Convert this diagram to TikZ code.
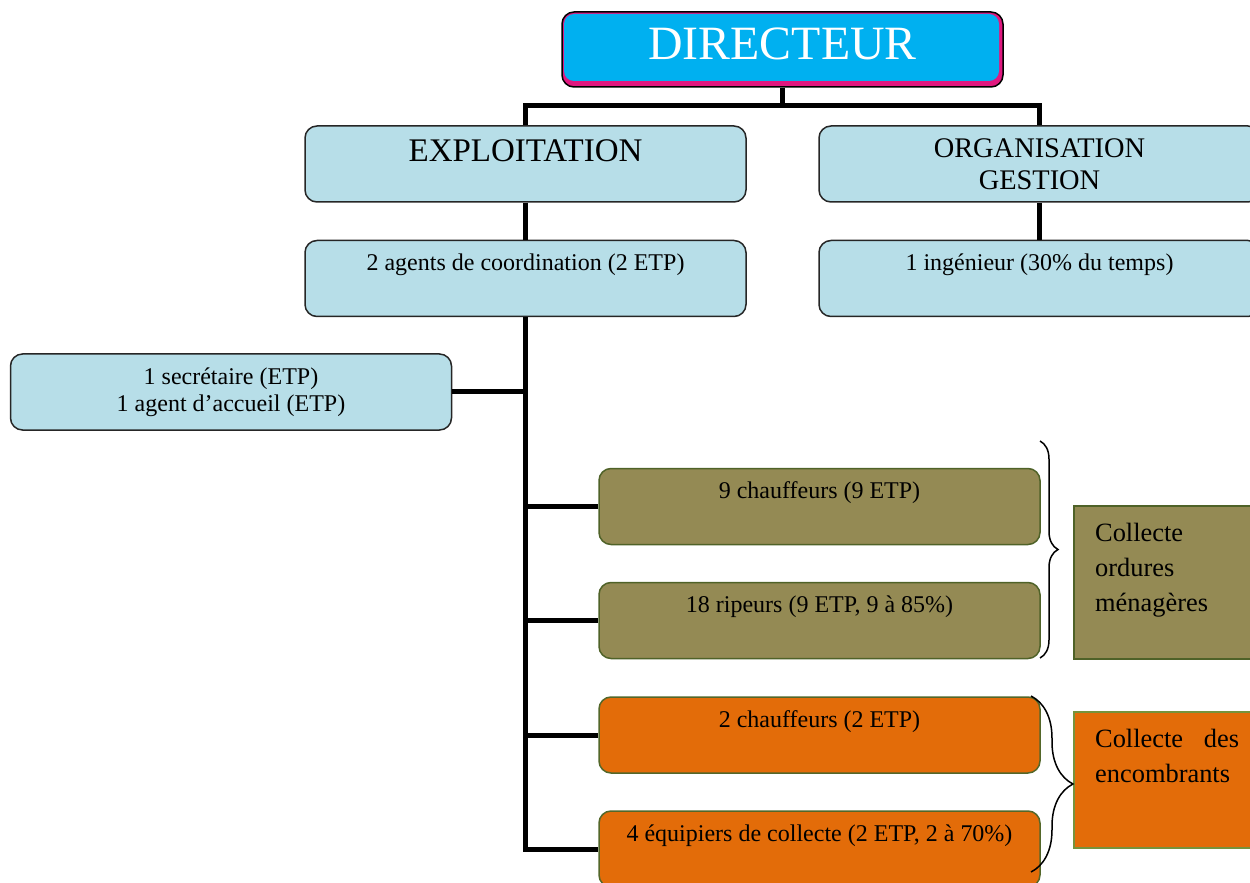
\documentclass[tikz,border=0pt]{standalone}
\usepackage{fontspec}
\setmainfont{Liberation Serif}
\usetikzlibrary{decorations.pathreplacing}

\definecolor{dircyan}{HTML}{00B0F0}
\definecolor{dirpink}{HTML}{E0187F}
\definecolor{paleblue}{HTML}{B7DEE8}
\definecolor{omfill}{HTML}{948A54}
\definecolor{omline}{HTML}{4F6228}
\definecolor{encfill}{HTML}{E36C09}
\definecolor{encline}{HTML}{77933C}

\newcommand\dirfont{\fontsize{23.9}{28}\selectfont}
\newcommand\expfont{\fontsize{16.5}{19}\selectfont}
\newcommand\orgfont{\fontsize{14.2}{16}\selectfont}
\newcommand\boxfont{\fontsize{12}{13.5}\selectfont}
\newcommand\groupfont{\fontsize{13.2}{17.5}\selectfont}

\begin{document}
\begin{tikzpicture}[x=0.5pt, y=-0.5pt,
    link/.style={line width=2.5pt},
    box/.style={rounded corners=6pt, minimum width=220.5pt, minimum height=38pt, inner sep=0pt, line width=0.75pt},
    bluebox/.style={box, draw=black!85, fill=paleblue},
    omcell/.style={box, draw=omline, fill=omfill},
    enccell/.style={box, draw=encline!70!black, fill=encfill},
    toptext/.style={label={[font=\boxfont, anchor=base, yshift=-15.5pt]north:#1}},
    group/.style={minimum width=95pt, inner sep=0pt, line width=0.9pt},
    grouptext/.style={font=\groupfont, anchor=base west, align=left, xshift=7.5pt, yshift=-18pt},
    curly/.style={decorate, decoration={brace, amplitude=#1}, line width=0.75pt}]
    \useasboundingbox (0,0) rectangle (1250,883);

    % Director
    \node[box, minimum height=37.5pt, draw=black, fill=dirpink,
          path picture={\fill[dircyan, rounded corners=5pt]
              ([shift={(2,2)}]path picture bounding box.north west) rectangle
              ([shift={(-4,-6)}]path picture bounding box.south east);},
          label={[font=\dirfont, text=white, anchor=base, yshift=-24pt]north:DIRECTEUR}]
          (dir) at (782.5,49.5) {};

    % Two departments
    \node[bluebox, label={[font=\expfont, anchor=base, yshift=-18pt]north:EXPLOITATION}] (expl) at (525.5,164) {};
    \node[bluebox, font=\orgfont, align=center] (org) at (1039.5,164) {ORGANISATION\\GESTION};
    \node[bluebox, toptext={2 agents de coordination (2 ETP)}] (coord) at (525.5,278.5) {};
    \node[bluebox, toptext={1 ingénieur (30\% du temps)}] (ing) at (1039.5,278.5) {};
    \node[bluebox, font=\boxfont, align=center] (secr) at (231,392) {1 secrétaire (ETP)\\1 agent d’accueil (ETP)};

    % Collection teams
    \node[omcell, toptext={9 chauffeurs (9 ETP)}] (chomb) at (819.5,506.5) {};
    \node[omcell, toptext={18 ripeurs (9 ETP, 9 à 85\%)}] (ripeurs) at (819.5,620.5) {};
    \node[enccell, toptext={2 chauffeurs (2 ETP)}] (chenc) at (819.5,735) {};
    \node[enccell, toptext={4 équipiers de collecte (2 ETP, 2 à 70\%)}] (equip) at (819.5,849) {};

    \node[group, minimum height=76.5pt, fill=omfill, draw=omline,
          label={[grouptext, text width=90pt]north west:{Collecte\\ordures\\ménagères}}] (om) at (1169,582.5) {};
    \node[group, minimum height=68pt, fill=encfill, draw=encline,
          label={[grouptext, text width=72pt]north west:{Collecte\hfill des\\encombrants}}] (enc) at (1169,780) {};

    % Connectors
    \coordinate (split) at (782.5,106);
    \draw[link] (dir.south) -- (split);
    \draw[link] (expl.north) |- (split) -| (org.north);
    \draw[link] (expl.south) -- (coord.north);
    \draw[link] (org.south) -- (ing.north);
    \draw[link] (coord.south) |- (equip.west);
    \draw[link] (secr.east) -- (secr.east -| coord.south);
    \foreach \n in {chomb, ripeurs, chenc}
        \draw[link] (\n.west) -- (\n.west -| coord.south);

    % Braces
    \coordinate (omtop) at (1040,441);
    \coordinate (ombot) at (1040,658);
    \coordinate (enctop) at (1031,696);
    \coordinate (encbot) at (1031,872);
    \draw[curly=9pt] (omtop) -- (ombot);
    \draw[curly=21pt] (enctop) -- (encbot);
\end{tikzpicture}
\end{document}
